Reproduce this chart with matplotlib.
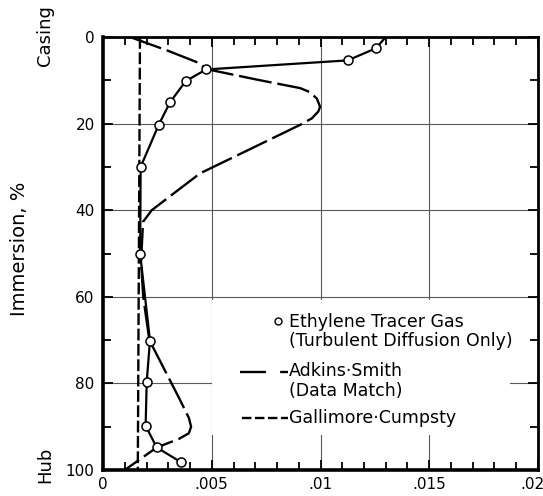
import matplotlib
matplotlib.use("Agg")
import matplotlib.pyplot as plt
import matplotlib.transforms as mtransforms
from matplotlib.patches import Rectangle
from matplotlib.ticker import MultipleLocator

# Ethylene tracer gas (measured points)
eth_x = [0.01255, 0.01125, 0.00474, 0.00380, 0.00308, 0.00256, 0.00173,
         0.00171, 0.00216, 0.00201, 0.00196, 0.00247, 0.00359]
eth_y = [2.6, 5.4, 7.5, 10.2, 15.1, 20.3, 30.0, 50.2, 70.1, 79.6, 89.8, 94.8, 98.2]
# curve continues to the casing
eth_top_x = 0.0130
eth_top_y = 0.0

# Adkins-Smith (data match)
adk_x = [0.00124, 0.00300, 0.00446, 0.00474, 0.00713, 0.00906, 0.00950, 0.00983,
         0.00998, 0.00990, 0.00960, 0.00906, 0.00446, 0.00224, 0.00184, 0.00175,
         0.00185, 0.00213, 0.00354, 0.00395, 0.00405, 0.00395, 0.00350, 0.00247,
         0.00100]
adk_y = [0.0, 3.2, 6.1, 7.4, 9.9, 11.8, 12.7, 14.2, 16.1, 17.2, 18.8, 20.3, 31.5,
         40.0, 42.7, 52.0, 60.0, 70.0, 83.8, 88.0, 90.0, 91.5, 92.8, 94.8, 100.0]

# Gallimore-Cumpsty
gal_x = [0.00170, 0.00160]
gal_y = [0.0, 100.0]

x_ticks = [0, 0.005, 0.01, 0.015, 0.02]
x_labels = ["0", ".005", ".01", ".015", ".02"]
y_ticks = [0, 20, 40, 60, 80, 100]

fig = plt.figure(figsize=(5.43, 4.96), dpi=100)
ax = fig.add_axes([103 / 543, 1 - 470 / 496, 435 / 543, 433 / 496])

ax.plot([eth_top_x] + eth_x, [eth_top_y] + eth_y, color="black", lw=1.6, zorder=4)
ax.plot(eth_x, eth_y, "o", ms=6.5, mfc="white", mec="black", mew=1.1, zorder=5)
ax.plot(adk_x, adk_y, color="black", lw=1.7, dashes=(14, 2.5), zorder=3)
ax.plot(gal_x, gal_y, color="black", lw=1.7, dashes=(5, 1.5), zorder=3)

ax.set_xlim(0, 0.02)
ax.set_ylim(100, 0)
ax.set_xticks(x_ticks)
ax.set_xticklabels(x_labels)
ax.set_yticks(y_ticks)
ax.xaxis.set_minor_locator(MultipleLocator(0.001))
ax.yaxis.set_minor_locator(MultipleLocator(10))
ax.tick_params(which="both", direction="in", top=True, right=True, width=1.3, labelsize=11)
ax.tick_params(which="major", length=7)
ax.tick_params(which="minor", length=6)
ax.tick_params(axis="y", pad=6)
ax.tick_params(axis="x", pad=5)
for s in ax.spines.values():
    s.set_linewidth(2)
ax.spines["left"].set_linewidth(2.6)
ax.spines["bottom"].set_linewidth(2.6)

# nudge the last x label so it sits mostly inside the figure
last = ax.get_xticklabels()[-1]
last.set_transform(last.get_transform() + mtransforms.ScaledTranslation(-6 / 100, 0, fig.dpi_scale_trans))

ax.set_axisbelow(True)
ax.grid(True, which="major", color="0.35", lw=0.8)

# white legend panel covering the grid
ax.add_patch(Rectangle((0.251, 0.081), 0.685, 0.312, transform=ax.transAxes,
                       facecolor="white", edgecolor="none", zorder=1.5))

ax.plot([0.402], [0.343], "o", ms=5, mfc="white", mec="black", mew=1.0,
        transform=ax.transAxes, zorder=6)
ax.text(0.428, 0.320, "Ethylene Tracer Gas\n(Turbulent Diffusion Only)",
        transform=ax.transAxes, fontsize=12.5, va="center", ha="left", linespacing=1.1, zorder=6)
ax.plot([0.315, 0.425], [0.227, 0.227], color="black", lw=1.7, dashes=(11, 6),
        transform=ax.transAxes, zorder=6)
ax.text(0.428, 0.206, "Adkins·Smith\n(Data Match)",
        transform=ax.transAxes, fontsize=12.5, va="center", ha="left", linespacing=1.1, zorder=6)
ax.plot([0.320, 0.425], [0.120, 0.120], color="black", lw=1.7, dashes=(4, 1.5),
        transform=ax.transAxes, zorder=6)
ax.text(0.428, 0.120, "Gallimore·Cumpsty",
        transform=ax.transAxes, fontsize=12.5, va="center", ha="left", zorder=6)

fig.text(20 / 543, 1 - 249 / 496, "Immersion, %", rotation=90, fontsize=14,
         ha="center", va="center")
fig.text(45 / 543, 1 - 36 / 496, "Casing", rotation=90, fontsize=13,
         ha="center", va="center")
fig.text(45 / 543, 1 - 465 / 496, "Hub", rotation=90, fontsize=13,
         ha="center", va="center")

fig.savefig("out.png", dpi=100)
